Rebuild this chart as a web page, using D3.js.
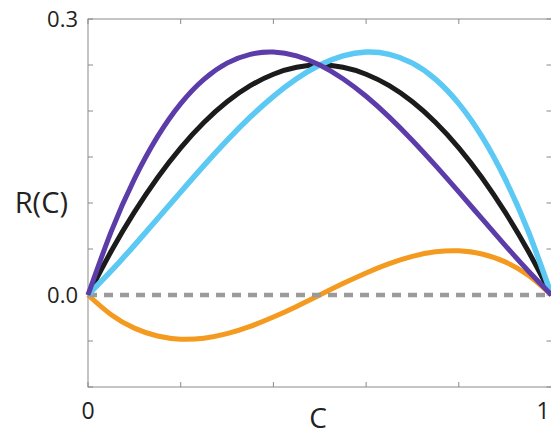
<!DOCTYPE html>
<html><head><meta charset="utf-8">
<script src="https://cdn.jsdelivr.net/npm/d3@7"></script>
<style>body{margin:0;background:#fff}svg{display:block}text{font-family:"Open Sans",sans-serif;fill:#222}</style>
</head><body><svg id="c" width="551" height="435"></svg>
<script>
const cValues = [0,0.05,0.1,0.15,0.2,0.25,0.3,0.35,0.4,0.45,0.5,0.55,0.6,0.65,0.7,0.75,0.8,0.85,0.9,0.95,1];
const blackR  = [0,0.0475,0.09,0.1275,0.16,0.1875,0.21,0.2275,0.24,0.2475,0.25,0.2475,0.24,0.2275,0.21,0.1875,0.16,0.1275,0.09,0.0475,0];
const purpleR = [0,0.0689,0.126,0.1721,0.208,0.2344,0.252,0.2616,0.264,0.2599,0.25,0.2351,0.216,0.1934,0.168,0.1406,0.112,0.0829,0.054,0.0261,0];
const blueR   = [0,0.0261,0.054,0.0829,0.112,0.1406,0.168,0.1934,0.216,0.2351,0.25,0.2599,0.264,0.2616,0.252,0.2344,0.208,0.1721,0.126,0.0689,0];
const orangeR = [0,-0.0214,-0.036,-0.0446,-0.048,-0.0469,-0.042,-0.0341,-0.024,-0.0124,0,0.0124,0.024,0.0341,0.042,0.0469,0.048,0.0446,0.036,0.0214,0];
const xTicks = [0,0.2,0.4,0.6,0.8,1];
const yTicks = [-0.1,-0.05,0,0.05,0.1,0.15,0.2,0.25,0.3];
const yTickLabels = {"0.3":"0.3","0":"0.0"};
const xTickLabels = {"0":"0","1":"1"};

const svg = d3.select("#c");
const L=88, R=551.5, T=19, B=387;
const x = d3.scaleLinear().domain([0,1]).range([L,R]);
const y = d3.scaleLinear().domain([-0.1,0.3]).range([B,T]);

const axCol="#8a8a8a";
svg.append("rect").attr("x",L).attr("y",T).attr("width",R-L).attr("height",B-T)
  .attr("fill","none").attr("stroke",axCol).attr("stroke-width",1);

const ax = svg.append("g").attr("stroke",axCol).attr("stroke-width",1);
ax.selectAll(".xb").data(xTicks).join("line").attr("x1",d=>x(d)).attr("x2",d=>x(d)).attr("y1",B).attr("y2",B-5);
ax.selectAll(".xt").data(xTicks).join("line").attr("x1",d=>x(d)).attr("x2",d=>x(d)).attr("y1",T).attr("y2",T+5);
ax.selectAll(".yl").data(yTicks).join("line").attr("x1",L).attr("x2",L+5).attr("y1",d=>y(d)).attr("y2",d=>y(d));
ax.selectAll(".yr").data(yTicks).join("line").attr("x1",R).attr("x2",R-5).attr("y1",d=>y(d)).attr("y2",d=>y(d));

svg.selectAll(".ytl").data(yTicks.filter(d=>yTickLabels[String(+d.toFixed(2))]!==undefined)).join("text")
  .attr("x",78).attr("y",d=>y(d)).attr("dy","0.36em").attr("text-anchor","end")
  .attr("font-size",22).text(d=>yTickLabels[String(+d.toFixed(2))]);
svg.selectAll(".xtl").data(xTicks.filter(d=>xTickLabels[String(d)]!==undefined)).join("text")
  .attr("x",d=>Math.min(x(d),543)).attr("y",419).attr("text-anchor","middle")
  .attr("font-size",23).text(d=>xTickLabels[String(d)]);

svg.append("text").attr("x",68).attr("y",y(0.1)).attr("dy","0.36em").attr("text-anchor","end")
  .attr("font-size",29).text("R(C)");
svg.append("text").attr("x",318).attr("y",428).attr("text-anchor","middle")
  .attr("font-size",28).text("C");

const line = d3.line().x((d,i)=>x(cValues[i])).y(d=>y(d)).curve(d3.curveNatural);

const g = svg.append("g");
g.append("path").attr("d",line(orangeR)).attr("fill","none").attr("stroke","#f39a1f").attr("stroke-width",5);
g.append("path").attr("d",line(cValues.map(()=>0))).attr("fill","none").attr("stroke","#9a9a9a")
  .attr("stroke-width",4.5).attr("stroke-dasharray","9,7");
g.append("path").attr("d",line(blackR)).attr("fill","none").attr("stroke","#1b1b1b").attr("stroke-width",5);
g.append("path").attr("d",line(blueR)).attr("fill","none").attr("stroke","#5cc8f4").attr("stroke-width",5.5);
g.append("path").attr("d",line(purpleR)).attr("fill","none").attr("stroke","#5c3ca8").attr("stroke-width",5);
</script></body></html>
